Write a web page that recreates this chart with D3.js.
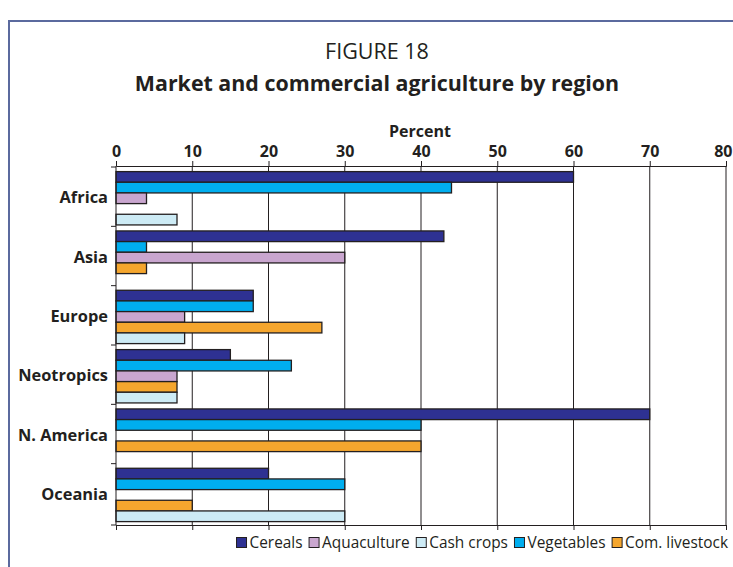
<!DOCTYPE html>
<html>
<head>
<meta charset="utf-8">
<script src="https://cdn.jsdelivr.net/npm/d3@7"></script>
<style>
  body { margin: 0; background: #fff; }
  svg text { font-family: "Open Sans", "DejaVu Sans Condensed", sans-serif; fill: #231f20; }
</style>
</head>
<body>
<div class="canvas"></div>
<script>
var width = 733,
   height = 567;

// categories, top to bottom
var regions = ['Africa', 'Asia', 'Europe', 'Neotropics', 'N. America', 'Oceania'];

// bar order inside each group (top to bottom)
var slots = ['Cereals', 'Vegetables', 'Aquaculture', 'Com. livestock', 'Cash crops'];

// legend order
var legendOrder = ['Cereals', 'Aquaculture', 'Cash crops', 'Vegetables', 'Com. livestock'];

// percent values per region, same order as regions (0 = no bar)
var cereals     = [60, 43, 18, 15, 70, 20];
var vegetables  = [44, 4, 18, 23, 40, 30];
var aquaculture = [4, 30, 9, 8, 0, 0];
var livestock   = [0, 4, 27, 8, 40, 10];
var cashCrops   = [8, 0, 9, 8, 0, 30];

var xTicks = [0, 10, 20, 30, 40, 50, 60, 70, 80];

var colors = {
   'Cereals': '#2e3192',
   'Vegetables': '#00aeef',
   'Aquaculture': '#c9a6cf',
   'Com. livestock': '#f5a62e',
   'Cash crops': '#cdebf5'
};

var seriesValues = {
   'Cereals': cereals,
   'Vegetables': vegetables,
   'Aquaculture': aquaculture,
   'Com. livestock': livestock,
   'Cash crops': cashCrops
};

var margin = {left: 116, right: 726, top: 166, bottom: 525};

var svg = d3.select('.canvas')
   .append('svg')
   .attr('width', width)
   .attr('height', height);

// frame
svg.append('path')
   .attr('d', 'M9,' + (height + 2) + 'V21H' + (width + 2))
   .attr('fill', 'none')
   .attr('stroke', '#5b6a9e')
   .attr('stroke-width', 2);

// titles
svg.append('text')
   .attr('x', 377).attr('y', 59)
   .attr('text-anchor', 'middle')
   .style('font-size', '21.5px')
   .text('FIGURE 18');

svg.append('text')
   .attr('x', 377).attr('y', 91)
   .attr('text-anchor', 'middle')
   .style('font-size', '21.4px')
   .style('font-weight', 'bold')
   .text('Market and commercial agriculture by region');

var x = d3.scaleLinear()
   .domain([0, 80])
   .range([margin.left, margin.right]);

var y0 = d3.scaleBand()
   .domain(regions)
   .range([168, 524]);

var y1 = d3.scaleBand()
   .domain(slots)
   .range([3.6, y0.bandwidth() - 2.4]);

// gridlines
svg.append('g')
   .selectAll('line')
   .data(xTicks.slice(1))
   .enter().append('line')
      .attr('x1', d => x(d)).attr('x2', d => x(d))
      .attr('y1', margin.top).attr('y2', margin.bottom)
      .attr('stroke', '#231f20')
      .attr('stroke-width', 1);

// bars
var groups = svg.append('g')
   .selectAll('g')
   .data(regions)
   .enter().append('g')
      .attr('transform', d => 'translate(0,' + y0(d) + ')');

groups.selectAll('rect')
   .data((r, i) => slots.map(s => ({series: s, value: seriesValues[s][i]})).filter(d => d.value > 0))
   .enter().append('rect')
      .attr('x', x(0))
      .attr('y', d => y1(d.series))
      .attr('width', d => x(d.value) - x(0))
      .attr('height', y1.bandwidth())
      .attr('fill', d => colors[d.series])
      .attr('stroke', '#231f20')
      .attr('stroke-width', 1.3);

// top axis
var topAxis = svg.append('g')
   .attr('transform', 'translate(0,' + margin.top + ')')
   .call(d3.axisTop(x).tickValues(xTicks).tickSize(5).tickPadding(4));

topAxis.selectAll('text')
   .style('font-size', '16px')
   .style('font-weight', 'bold')
   .attr('fill', '#231f20');

// last label sits inside the frame, like the original
topAxis.selectAll('.tick:last-of-type text')
   .attr('text-anchor', 'end')
   .attr('x', 6);

// bottom axis
svg.append('g')
   .attr('transform', 'translate(0,' + margin.bottom + ')')
   .call(d3.axisBottom(x).tickValues(xTicks).tickSize(5).tickFormat(''));

// left axis: ticks at band boundaries
var leftAxis = svg.append('g')
   .attr('transform', 'translate(' + margin.left + ',0)');

leftAxis.append('line')
   .attr('y1', margin.top).attr('y2', margin.bottom)
   .attr('stroke', '#231f20');

leftAxis.selectAll('.tick')
   .data(regions.concat(['end']))
   .enter().append('line')
      .attr('class', 'tick')
      .attr('x1', -5).attr('x2', 0)
      .attr('y1', (d, i) => i < regions.length ? y0(d) - 1 : margin.bottom)
      .attr('y2', (d, i) => i < regions.length ? y0(d) - 1 : margin.bottom)
      .attr('stroke', '#231f20');

leftAxis.selectAll('.label')
   .data(regions)
   .enter().append('text')
      .attr('class', 'label')
      .attr('x', -8)
      .attr('y', d => y0(d) + y0.bandwidth() / 2)
      .attr('dy', '0.35em')
      .attr('text-anchor', 'end')
      .style('font-size', '16.4px')
      .style('font-weight', 'bold')
      .text(d => d);

svg.selectAll('.domain').attr('stroke', '#231f20');
svg.selectAll('.tick line').attr('stroke', '#231f20');

// axis title
svg.append('text')
   .attr('x', 420).attr('y', 137)
   .attr('text-anchor', 'middle')
   .style('font-size', '16px')
   .style('font-weight', 'bold')
   .text('Percent');

// legend, right aligned to the plot edge
var legend = svg.append('g')
   .attr('class', 'legend');

var items = legend.selectAll('g')
   .data(legendOrder)
   .enter().append('g');

items.append('rect')
   .attr('width', 10).attr('height', 10)
   .attr('y', -10.5)
   .attr('fill', d => colors[d])
   .attr('stroke', '#231f20')
   .attr('stroke-width', 1);

items.append('text')
   .attr('x', 13)
   .attr('y', 0)
   .style('font-size', '15.4px')
   .text(d => d);

var gap = 6.5;
var widths = [];
items.each(function() { widths.push(this.getBBox().width); });
var total = d3.sum(widths) + gap * (legendOrder.length - 1);
var cursor = 728 - total;
items.attr('transform', (d, i) => {
   var t = 'translate(' + cursor + ',548)';
   cursor += widths[i] + gap;
   return t;
});
</script>
</body>
</html>
